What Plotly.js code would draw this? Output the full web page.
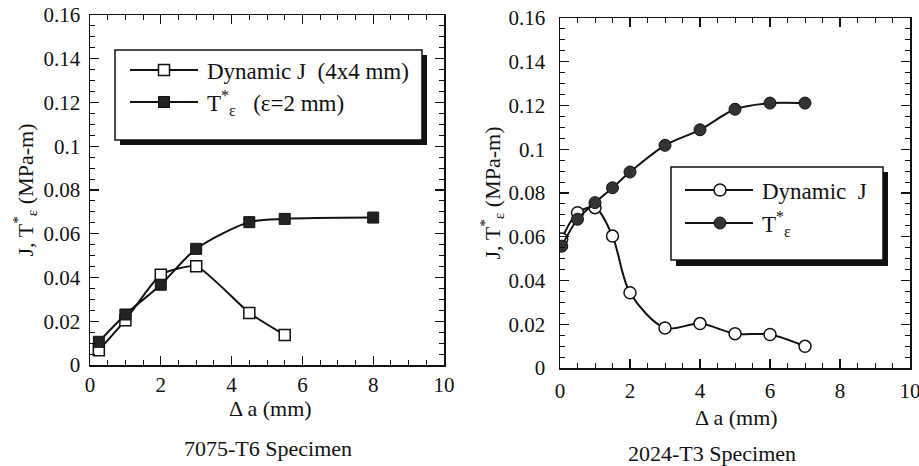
<!DOCTYPE html>
<html><head><meta charset="utf-8">
<script src="https://cdn.plot.ly/plotly-3.0.1.min.js"></script>
<style>html,body{margin:0;padding:0;background:#fff}#chart{width:919px;height:466px}</style>
</head><body><div id="chart"></div>
<script>
// ---- data: 7075-T6 specimen ----
const crackExt7075J = [0.25, 1, 2, 3, 4.5, 5.5];
const dynamicJ7075 = [0.0068, 0.0205, 0.0413, 0.0452, 0.0238, 0.0137];
const crackExt7075T = [0.25, 1, 2, 3, 4.5, 5.5, 8];
const tStar7075 = [0.0106, 0.0231, 0.0367, 0.0531, 0.0653, 0.0668, 0.0674];
// ---- data: 2024-T3 specimen ----
const crackExt2024 = [0.05, 0.5, 1, 1.5, 2, 3, 4, 5, 6, 7];
const dynamicJ2024 = [0.059, 0.071, 0.0733, 0.0603, 0.0344, 0.0183, 0.0203, 0.0157, 0.0153, 0.0099];
const tStar2024 = [0.0557, 0.068, 0.0756, 0.0824, 0.0896, 0.1018, 0.1089, 0.1183, 0.1211, 0.1211];
// ---- labels ----
const legendLeft = ["Dynamic J\u00a0\u00a0(4x4 mm)", "T<sup>*</sup><sub>\u03b5</sub>\u00a0\u00a0\u00a0(\u03b5=2 mm)"];
const legendRight = ["Dynamic\u00a0\u00a0J", "T<sup>*</sup><sub>\u03b5</sub>"];
const xTitle = "\u0394 a (mm)";
const yTitle = "J, T<sup>*</sup><sub>\u03b5</sub> (MPa-m)";
const specimenLabels = ["7075-T6 Specimen", "2024-T3 Specimen"];

const W = 919, H = 466;
const px = v => v / W;
const py = v => 1 - v / H;
const FONT = "Liberation Serif";

const traces = [
  {x: crackExt7075J, y: dynamicJ7075, name: legendLeft[0], xaxis: 'x', yaxis: 'y', legend: 'legend',
   mode: 'lines+markers', line: {color: '#111', width: 2, shape: 'spline', smoothing: 0.5},
   marker: {symbol: 'square', size: 11, color: 'white', line: {color: '#111', width: 1.5}}},
  {x: crackExt7075T, y: tStar7075, name: legendLeft[1], xaxis: 'x', yaxis: 'y', legend: 'legend',
   mode: 'lines+markers', line: {color: '#111', width: 2, shape: 'spline', smoothing: 0.8},
   marker: {symbol: 'square', size: 11, color: '#222', line: {color: '#111', width: 1}}},
  {x: crackExt2024, y: dynamicJ2024, name: legendRight[0], xaxis: 'x2', yaxis: 'y2', legend: 'legend2',
   mode: 'lines+markers', line: {color: '#111', width: 2, shape: 'spline', smoothing: 0.9},
   marker: {symbol: 'circle', size: 12, color: 'white', line: {color: '#111', width: 1.5}}},
  {x: crackExt2024, y: tStar2024, name: legendRight[1], xaxis: 'x2', yaxis: 'y2', legend: 'legend2',
   mode: 'lines+markers', line: {color: '#111', width: 2, shape: 'spline', smoothing: 0.9},
   marker: {symbol: 'circle', size: 12, color: '#333', line: {color: '#111', width: 1}}}
];

function xAxis(dom, anchor, lblStand) {
  return {domain: dom, anchor: anchor, range: [0, 10], dtick: 2, tick0: 0,
    ticks: 'inside', ticklen: 9, tickwidth: 1.2, tickcolor: '#111',
    minor: {dtick: 0.5, ticks: 'inside', ticklen: 5, tickwidth: 1, tickcolor: '#111'},
    showline: true, linecolor: '#111', linewidth: 1.5, mirror: 'allticks',
    showgrid: false, zeroline: false, ticklabelstandoff: lblStand, ticklabeloverflow: 'allow',
    tickfont: {family: FONT, size: 21, color: '#111'}};
}
function yAxis(dom, anchor, standoff, lblStand) {
  return {domain: dom, anchor: anchor, range: [0, 0.16], dtick: 0.02, tick0: 0,
    ticks: 'inside', ticklen: 9, tickwidth: 1.2, tickcolor: '#111',
    minor: {dtick: 0.005, ticks: 'inside', ticklen: 5, tickwidth: 1, tickcolor: '#111'},
    showline: true, linecolor: '#111', linewidth: 1.5, mirror: 'allticks',
    showgrid: false, zeroline: false, ticklabelstandoff: lblStand, ticklabeloverflow: 'allow',
    tickfont: {family: FONT, size: 21, color: '#111'},
    title: {text: yTitle, font: {family: FONT, size: 22, color: '#111'}, standoff: standoff}};
}

const titleFont = {family: FONT, size: 22, color: '#111'};
const layout = {
  width: W, height: H, margin: {l: 0, r: 0, t: 0, b: 0},
  paper_bgcolor: 'white', plot_bgcolor: 'rgba(0,0,0,0)',
  font: {family: FONT, color: '#111'},
  xaxis: xAxis([px(90), px(444)], 'y', 0),
  yaxis: yAxis([py(365), py(15)], 'x', 4, 4),
  xaxis2: xAxis([px(560), px(910)], 'y2', 3),
  yaxis2: yAxis([py(368), py(18)], 'x2', 2, 9),
  legend: {x: px(145), y: py(51), xanchor: 'left', yanchor: 'top', bgcolor: 'rgba(0,0,0,0)',
    borderwidth: 0, itemwidth: 46, font: {family: FONT, size: 23, color: '#111'}, tracegroupgap: 0},
  legend2: {x: px(698), y: py(168), xanchor: 'left', yanchor: 'top', bgcolor: 'rgba(0,0,0,0)',
    borderwidth: 0, itemwidth: 54, font: {family: FONT, size: 23, color: '#111'}, tracegroupgap: 0},
  shapes: [
    {type: 'rect', xref: 'paper', yref: 'paper', x0: px(120), x1: px(427), y0: py(145), y1: py(55), fillcolor: '#111', line: {width: 0}, layer: 'above'},
    {type: 'rect', xref: 'paper', yref: 'paper', x0: px(115), x1: px(422), y0: py(140), y1: py(50), fillcolor: 'white', line: {color: '#111', width: 1.5}, layer: 'above'},
    {type: 'rect', xref: 'paper', yref: 'paper', x0: px(676), x1: px(888), y0: py(266), y1: py(172), fillcolor: '#111', line: {width: 0}, layer: 'above'},
    {type: 'rect', xref: 'paper', yref: 'paper', x0: px(671), x1: px(883), y0: py(260), y1: py(167), fillcolor: 'white', line: {color: '#111', width: 1.5}, layer: 'above'}
  ],
  annotations: [
    {text: xTitle, xref: 'paper', yref: 'paper', x: px(270), y: py(408), showarrow: false, xanchor: 'center', yanchor: 'middle', font: titleFont},
    {text: xTitle, xref: 'paper', yref: 'paper', x: px(736), y: py(417), showarrow: false, xanchor: 'center', yanchor: 'middle', font: titleFont},
    {text: specimenLabels[0], xref: 'paper', yref: 'paper', x: px(268), y: py(448), showarrow: false, xanchor: 'center', yanchor: 'middle', font: titleFont},
    {text: specimenLabels[1], xref: 'paper', yref: 'paper', x: px(712), y: py(453), showarrow: false, xanchor: 'center', yanchor: 'middle', font: titleFont}
  ]
};

// legend sample geometry of the reference (marker centre, row, line ends, text start), in pixels
const legendSpec = [
  {mx: 164, my: 70, lx0: 130, lx1: 198, tx: 207},
  {mx: 164, my: 102, lx0: 130, lx1: 198, tx: 207},
  {mx: 720, my: 190, lx0: 685, lx1: 753, tx: 762},
  {mx: 720, my: 223, lx0: 685, lx1: 753, tx: 762}
];

const gd = document.getElementById('chart');
Plotly.newPlot(gd, traces, layout, {staticPlot: true, displayModeBar: false}).then(() => {
  try {
    const svgRect = gd.querySelector('.main-svg').getBoundingClientRect();
    gd.querySelectorAll('.infolayer .scrollbox').forEach(s => s.removeAttribute('clip-path'));
    gd.querySelectorAll('.infolayer g.traces').forEach(g => {
      const d = g.__data__;
      const idx = d && d[0] && d[0].trace ? d[0].trace.index : null;
      const spec = legendSpec[idx];
      if (!spec) return;
      const mk = g.querySelector('.legendpoints path.scatterpts');
      const r = mk.getBoundingClientRect();
      const cx = r.left + r.width / 2 - svgRect.left, cy = r.top + r.height / 2 - svgRect.top;
      const m = /translate\(([-\d.]+)[ ,]+([-\d.]+)\)/.exec(g.getAttribute('transform') || 'translate(0,0)');
      const gx = parseFloat(m[1]) + (spec.mx - cx), gy = parseFloat(m[2]) + (spec.my - cy);
      g.setAttribute('transform', 'translate(' + gx + ',' + gy + ')');
      const mt = /translate\(([-\d.]+)/.exec(mk.getAttribute('transform') || 'translate(20,0)');
      const mxl = mt ? parseFloat(mt[1]) : 20;
      g.querySelectorAll('.legendlines path').forEach(ln =>
        ln.setAttribute('d', 'M' + (mxl + spec.lx0 - spec.mx) + ',0h' + (spec.lx1 - spec.lx0)));
      const tx = g.querySelector('text');
      if (tx) {
        const tr = tx.getBoundingClientRect();
        const shift = spec.tx - (tr.left - svgRect.left);
        const x0 = parseFloat(tx.getAttribute('x') || '0');
        tx.setAttribute('x', x0 + shift);
        tx.querySelectorAll('tspan.line').forEach(t => {
          const tx0 = parseFloat(t.getAttribute('x') || '0');
          t.setAttribute('x', tx0 + shift);
        });
      }
    });
  } catch (e) { /* keep default legend */ }
});
</script></body></html>
